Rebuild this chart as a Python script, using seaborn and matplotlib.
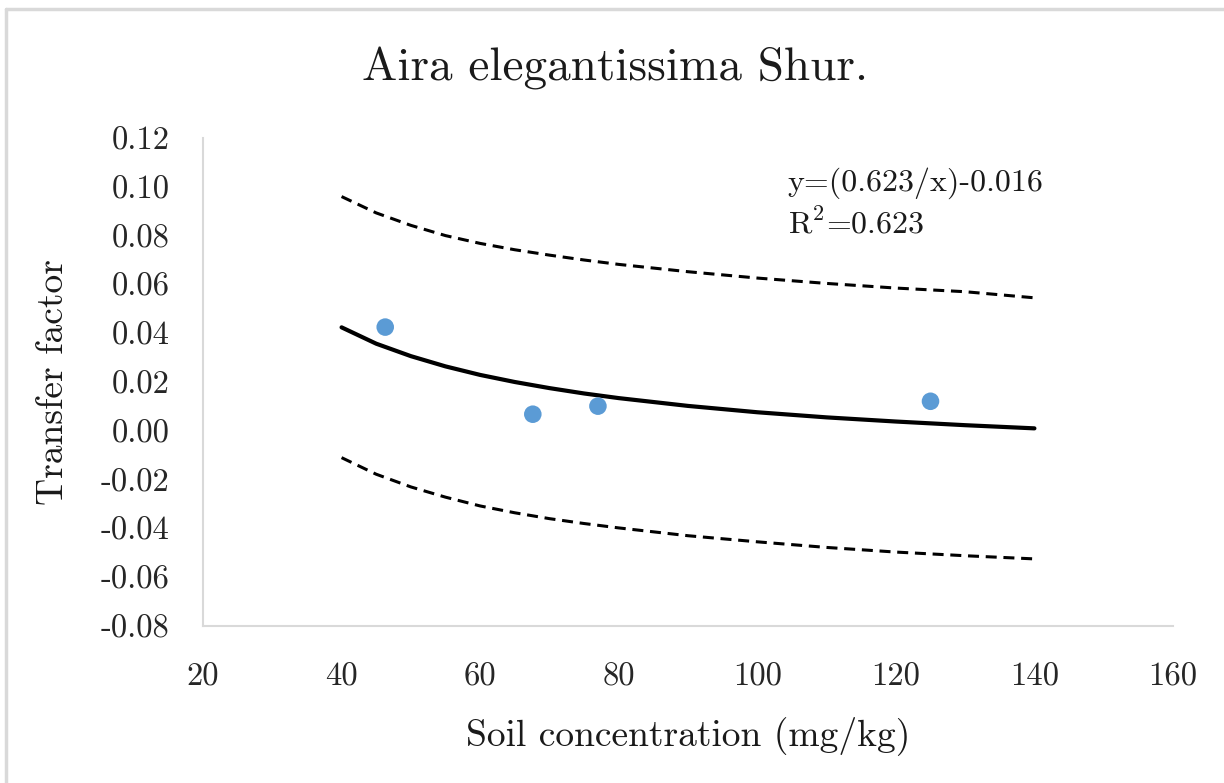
import matplotlib
matplotlib.use("Agg")
import matplotlib.pyplot as plt
import seaborn as sns
import pandas as pd
from matplotlib.lines import Line2D

# Data
soil_conc = [46.3, 67.6, 77.0, 125.0]
transfer = [0.0425, 0.0068, 0.0101, 0.0121]

curve_x = [40, 45, 50, 55, 60, 65, 70, 75, 80, 90, 100, 110, 120, 130, 140]
fit_y = [0.0424, 0.0357, 0.0306, 0.0264, 0.0229, 0.0200, 0.0175, 0.0153, 0.0134, 0.0102, 0.0076, 0.0055, 0.0038, 0.0023, 0.0010]
upper_y = [0.0960, 0.0893, 0.0842, 0.0800, 0.0768, 0.0742, 0.0720, 0.0700, 0.0682, 0.0652, 0.0626, 0.0604, 0.0585, 0.0570, 0.0545]
lower_y = [-0.0110, -0.0178, -0.0230, -0.0272, -0.0308, -0.0336, -0.0360, -0.0380, -0.0398, -0.0430, -0.0455, -0.0478, -0.0497, -0.0512, -0.0525]

x_ticks = [20, 40, 60, 80, 100, 120, 140, 160]
y_ticks = [-0.08, -0.06, -0.04, -0.02, 0.00, 0.02, 0.04, 0.06, 0.08, 0.10, 0.12]

title = "Aira elegantissima Shur."
x_label = "Soil concentration (mg/kg)"
y_label = "Transfer factor"
eq_text = "y=(0.623/x)-0.016"
r2_text = r"R$^{2}$=0.623"

sns.set_theme(style="white")
plt.rcParams["font.family"] = ["cmr10", "DejaVu Serif"]
plt.rcParams["mathtext.fontset"] = "cm"
plt.rcParams["axes.unicode_minus"] = False
plt.rcParams["axes.formatter.use_mathtext"] = False

fig = plt.figure(figsize=(12.24, 7.83), dpi=100)
ax = fig.add_axes([203/1224, 1-626/783, (1173-203)/1224, (626-138)/783])

curves = pd.DataFrame({"x": curve_x, "fit": fit_y, "upper": upper_y, "lower": lower_y})
sns.lineplot(data=curves, x="x", y="fit", ax=ax, color="black", linewidth=3.0)
sns.lineplot(data=curves, x="x", y="upper", ax=ax, color="black", linewidth=2.2, linestyle=(0, (3.6, 2.2)))
sns.lineplot(data=curves, x="x", y="lower", ax=ax, color="black", linewidth=2.2, linestyle=(0, (3.6, 2.2)))
pts = pd.DataFrame({"x": soil_conc, "y": transfer})
sns.scatterplot(data=pts, x="x", y="y", ax=ax, color="#5B9BD5", s=160, edgecolor="none", zorder=5)

ax.set_xlim(20, 160)
ax.set_ylim(-0.08, 0.12)
ax.set_xticks(x_ticks)
ax.set_yticks(y_ticks)
ax.set_xticklabels([str(v) for v in x_ticks])
ax.set_yticklabels([f"{v:.2f}" for v in y_ticks])
ax.tick_params(axis="both", labelsize=23.5, length=0, colors="#262626")
ax.tick_params(axis="x", pad=26)
ax.tick_params(axis="y", pad=24)

for side in ["top", "right"]:
    ax.spines[side].set_visible(False)
for side in ["left", "bottom"]:
    ax.spines[side].set_color("#D9D9D9")
    ax.spines[side].set_linewidth(1.5)

ax.set_xlabel(x_label, fontsize=27, color="#1a1a1a", labelpad=18)
ax.set_ylabel(y_label, fontsize=27, color="#1a1a1a", labelpad=22)
fig.text(615/1224, 1-68/783, title, fontsize=34, ha="center", va="center", color="#1a1a1a")
ax.text(104.4, 0.1016, eq_text, fontsize=23, ha="left", va="center", color="#1a1a1a")
ax.text(104.4, 0.0848, r2_text, fontsize=23, ha="left", va="center", color="#1a1a1a")

# outer frame (left and top edges visible)
fig.add_artist(Line2D([6/1224, 6/1224], [0, 1-9/783], transform=fig.transFigure, color="#D9D9D9", linewidth=2.5))
fig.add_artist(Line2D([6/1224, 1], [1-9/783, 1-9/783], transform=fig.transFigure, color="#D9D9D9", linewidth=2.5))

fig.savefig("out.png", dpi=100, facecolor="white")
